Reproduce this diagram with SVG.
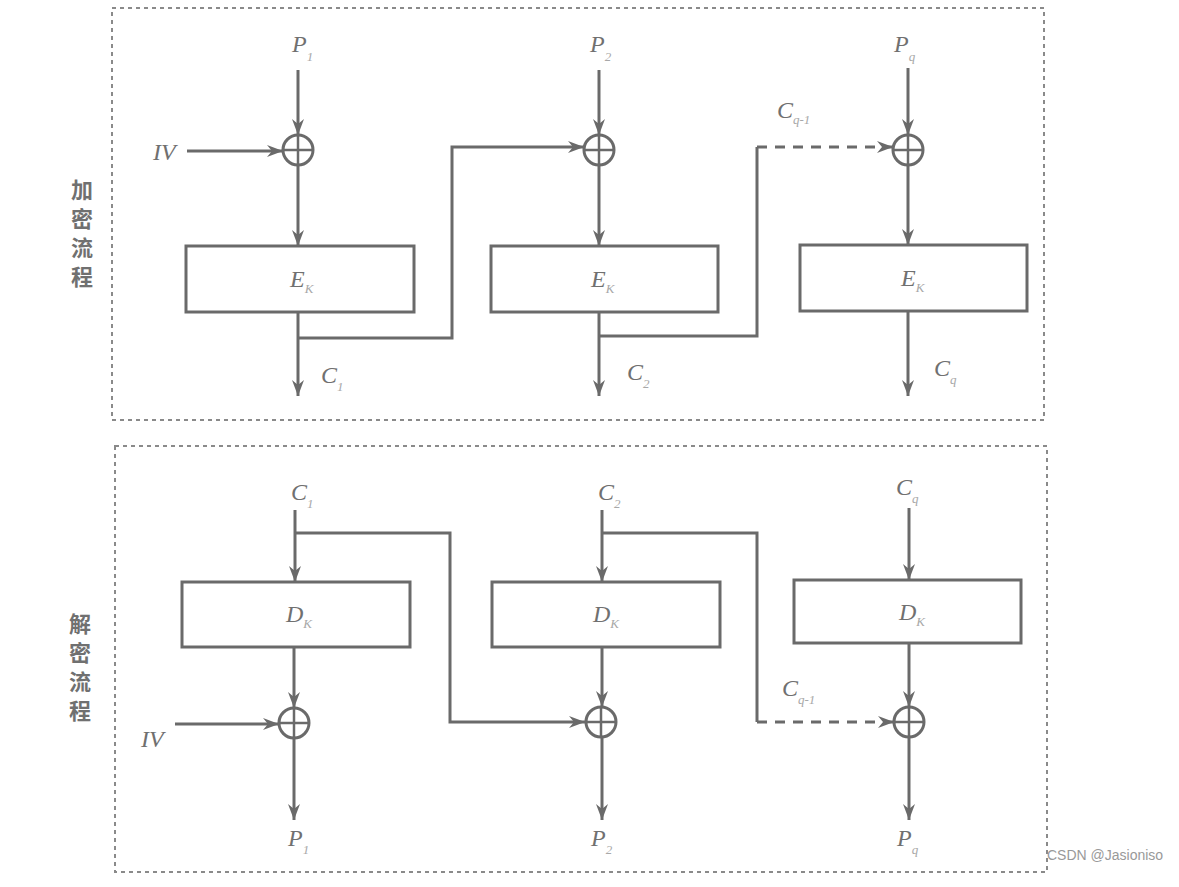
<svg xmlns="http://www.w3.org/2000/svg" width="1179" height="887" viewBox="0 0 1179 887">
<style>
.frame{fill:none;stroke:#8a8a8a;stroke-width:2;stroke-dasharray:4 4}
.box{fill:#fff;stroke:#6a6a6a;stroke-width:3}
.ln{fill:none;stroke:#6a6a6a;stroke-width:3}
.dash{stroke-dasharray:10 8}
.xor circle{fill:#fff;stroke:#6a6a6a;stroke-width:3}
.xor line{stroke:#6a6a6a;stroke-width:2.5}
.lbl{font-family:"Liberation Serif",serif;font-style:italic;font-size:24px;fill:#707070}
.sub{font-size:13px;fill:#a8a8a8}
.cjk{font-family:"Noto Sans CJK SC",sans-serif;font-size:22px;font-weight:bold;fill:#707070}
.wm{font-family:"Liberation Sans",sans-serif;font-size:14px;fill:#999}
</style>
<defs>
<marker id="ah" viewBox="0 0 16 12" refX="16" refY="6" markerWidth="16" markerHeight="12" markerUnits="userSpaceOnUse" orient="auto">
<path d="M0,0 L16,6 L0,12 L5,6 z" fill="#6a6a6a"/>
</marker>
</defs>
<rect width="1179" height="887" fill="#fff"/>
<g id="frames">
<rect class="frame" x="112" y="8" width="932" height="412"/>
<rect class="frame" x="115" y="446" width="932" height="426"/>
</g>
<g id="section-labels">
<text class="cjk" x="82" y="198" text-anchor="middle">加</text>
<text class="cjk" x="82" y="227" text-anchor="middle">密</text>
<text class="cjk" x="82" y="256" text-anchor="middle">流</text>
<text class="cjk" x="82" y="285" text-anchor="middle">程</text>
<text class="cjk" x="80" y="632" text-anchor="middle">解</text>
<text class="cjk" x="80" y="661" text-anchor="middle">密</text>
<text class="cjk" x="80" y="690" text-anchor="middle">流</text>
<text class="cjk" x="80" y="719" text-anchor="middle">程</text>
</g>
<g id="connectors">
<line class="ln" x1="298" y1="70" x2="298" y2="135" marker-end="url(#ah)"/>
<line class="ln" x1="187" y1="151" x2="283" y2="151" marker-end="url(#ah)"/>
<line class="ln" x1="298" y1="165" x2="298" y2="246" marker-end="url(#ah)"/>
<line class="ln" x1="298" y1="312" x2="298" y2="396" marker-end="url(#ah)"/>
<polyline class="ln" points="298,338 452,338 452,147 584,147" marker-end="url(#ah)"/>
<line class="ln" x1="599" y1="70" x2="599" y2="135" marker-end="url(#ah)"/>
<line class="ln" x1="599" y1="165" x2="599" y2="246" marker-end="url(#ah)"/>
<line class="ln" x1="599" y1="312" x2="599" y2="396" marker-end="url(#ah)"/>
<polyline class="ln" points="599,336 757,336 757,147"/>
<line class="ln dash" x1="757" y1="147" x2="893" y2="147" marker-end="url(#ah)"/>
<line class="ln" x1="908" y1="68" x2="908" y2="135" marker-end="url(#ah)"/>
<line class="ln" x1="908" y1="165" x2="908" y2="245" marker-end="url(#ah)"/>
<line class="ln" x1="908" y1="311" x2="908" y2="396" marker-end="url(#ah)"/>
<line class="ln" x1="295" y1="510" x2="295" y2="582" marker-end="url(#ah)"/>
<polyline class="ln" points="295,533 450,533 450,722 585,722" marker-end="url(#ah)"/>
<line class="ln" x1="294" y1="647" x2="294" y2="708" marker-end="url(#ah)"/>
<line class="ln" x1="175" y1="724" x2="279" y2="724" marker-end="url(#ah)"/>
<line class="ln" x1="294" y1="738" x2="294" y2="820" marker-end="url(#ah)"/>
<line class="ln" x1="602" y1="510" x2="602" y2="582" marker-end="url(#ah)"/>
<polyline class="ln" points="602,533 757,533 757,722"/>
<line class="ln dash" x1="757" y1="722" x2="894" y2="722" marker-end="url(#ah)"/>
<line class="ln" x1="602" y1="647" x2="602" y2="707" marker-end="url(#ah)"/>
<line class="ln" x1="602" y1="737" x2="602" y2="820" marker-end="url(#ah)"/>
<line class="ln" x1="909" y1="508" x2="909" y2="580" marker-end="url(#ah)"/>
<line class="ln" x1="909" y1="643" x2="909" y2="707" marker-end="url(#ah)"/>
<line class="ln" x1="909" y1="737" x2="909" y2="820" marker-end="url(#ah)"/>
</g>
<g id="enc-xor1" class="xor"><circle cx="298" cy="150" r="15"/><line x1="283" y1="150" x2="313" y2="150"/><line x1="298" y1="135" x2="298" y2="165"/></g>
<g id="enc-xor2" class="xor"><circle cx="599" cy="150" r="15"/><line x1="584" y1="150" x2="614" y2="150"/><line x1="599" y1="135" x2="599" y2="165"/></g>
<g id="enc-xor3" class="xor"><circle cx="908" cy="150" r="15"/><line x1="893" y1="150" x2="923" y2="150"/><line x1="908" y1="135" x2="908" y2="165"/></g>
<g id="dec-xor1" class="xor"><circle cx="294" cy="723" r="15"/><line x1="279" y1="723" x2="309" y2="723"/><line x1="294" y1="708" x2="294" y2="738"/></g>
<g id="dec-xor2" class="xor"><circle cx="601" cy="722" r="15"/><line x1="586" y1="722" x2="616" y2="722"/><line x1="601" y1="707" x2="601" y2="737"/></g>
<g id="dec-xor3" class="xor"><circle cx="909" cy="722" r="15"/><line x1="894" y1="722" x2="924" y2="722"/><line x1="909" y1="707" x2="909" y2="737"/></g>
<g id="enc-box1"><rect class="box" x="186" y="246" width="228" height="66"/><text class="lbl" x="290" y="287">E<tspan class="sub" dy="6">K</tspan></text></g>
<g id="enc-box2"><rect class="box" x="491" y="246" width="227" height="66"/><text class="lbl" x="591" y="287">E<tspan class="sub" dy="6">K</tspan></text></g>
<g id="enc-box3"><rect class="box" x="800" y="245" width="227" height="66"/><text class="lbl" x="901" y="286">E<tspan class="sub" dy="6">K</tspan></text></g>
<g id="dec-box1"><rect class="box" x="182" y="582" width="228" height="65"/><text class="lbl" x="286" y="622">D<tspan class="sub" dy="6">K</tspan></text></g>
<g id="dec-box2"><rect class="box" x="492" y="582" width="228" height="65"/><text class="lbl" x="593" y="622">D<tspan class="sub" dy="6">K</tspan></text></g>
<g id="dec-box3"><rect class="box" x="794" y="580" width="227" height="63"/><text class="lbl" x="899" y="620">D<tspan class="sub" dy="6">K</tspan></text></g>
<g id="labels">
<text class="lbl" x="292" y="52">P<tspan class="sub" dy="9">1</tspan></text>
<text class="lbl" x="590" y="52">P<tspan class="sub" dy="9">2</tspan></text>
<text class="lbl" x="894" y="52">P<tspan class="sub" dy="9">q</tspan></text>
<text class="lbl" x="153" y="160">IV</text>
<text class="lbl" x="777" y="118">C<tspan class="sub" dy="6">q-1</tspan></text>
<text class="lbl" x="321" y="383">C<tspan class="sub" dy="8">1</tspan></text>
<text class="lbl" x="627" y="380">C<tspan class="sub" dy="8">2</tspan></text>
<text class="lbl" x="934" y="376">C<tspan class="sub" dy="8">q</tspan></text>
<text class="lbl" x="291" y="500">C<tspan class="sub" dy="8">1</tspan></text>
<text class="lbl" x="598" y="500">C<tspan class="sub" dy="8">2</tspan></text>
<text class="lbl" x="896" y="495">C<tspan class="sub" dy="8">q</tspan></text>
<text class="lbl" x="141" y="747">IV</text>
<text class="lbl" x="782" y="696">C<tspan class="sub" dy="8">q-1</tspan></text>
<text class="lbl" x="288" y="846">P<tspan class="sub" dy="8">1</tspan></text>
<text class="lbl" x="591" y="846">P<tspan class="sub" dy="8">2</tspan></text>
<text class="lbl" x="897" y="846">P<tspan class="sub" dy="8">q</tspan></text>
</g>
<text class="wm" x="1047" y="860">CSDN @Jasioniso</text>
</svg>
